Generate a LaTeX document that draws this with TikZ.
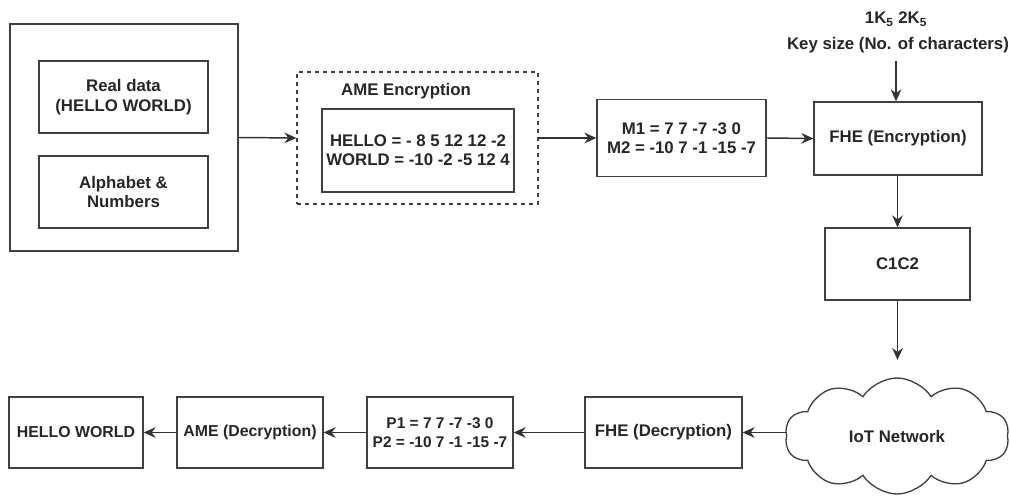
\documentclass[tikz,border=0pt]{standalone}
\usepackage{fontspec}
\setmainfont{Liberation Sans}
\usetikzlibrary{arrows.meta,shapes.symbols}
\begin{document}
\begin{tikzpicture}[x=0.75pt,y=-0.75pt,
  every node/.style={font=\bfseries\fontsize{12.6}{14.5}\selectfont, text=black!85},
  small/.style={font=\bfseries\fontsize{11.9}{14}\selectfont},
  smaller/.style={font=\bfseries\fontsize{11.6}{14}\selectfont},
  box/.style={draw=black!75, line width=1pt, rectangle, inner sep=0pt, align=center},
  arr/.style={draw=black!80, line width=1.1pt, -{Stealth[length=9pt,width=8pt,inset=3pt]}},
  plain/.style={draw=none, align=center}]
\useasboundingbox (0,0) rectangle (1010,496);
% input group
\node[box, minimum width=228*0.75pt, minimum height=227*0.75pt] (outer) at (124,137.5) {};
\node[box, minimum width=169*0.75pt, minimum height=72*0.75pt] (real) at (123.5,97) {Real data\\(HELLO WORLD)};
\node[box, minimum width=169*0.75pt, minimum height=72*0.75pt] (alpha) at (123.5,192) {Alphabet \&\\Numbers};
% AME encryption
\node[box, dashed, minimum width=241*0.75pt, minimum height=132*0.75pt] (ame) at (417.5,138) {};
\node[plain] (ametitle) at (406,91) {AME Encryption};
\node[box, minimum width=192*0.75pt, minimum height=83*0.75pt] (amein) at (418,150.5) {HELLO = - 8 5 12 12 -2\\WORLD = -10 -2 -5 12 4};
% M box
\node[box, minimum width=169*0.75pt, minimum height=77*0.75pt] (m) at (681.5,138) {M1 = 7 7 -7 -3 0\\M2 = -10 7 -1 -15 -7};
% FHE encryption
\node[box, minimum width=168*0.75pt, minimum height=73*0.75pt] (fhe) at (898,138.5) {FHE (Encryption)};
\node[plain] (keys) at (896,19) {1K\textsubscript{5} 2K\textsubscript{5}};
\node[plain] (keysize) at (898,45) {Key size (No. of characters)};
\coordinate (keyend) at (896,61);
% C1C2
\node[box, minimum width=145*0.75pt, minimum height=72*0.75pt] (c) at (897.5,264) {C1C2};
% cloud
\node[cloud, cloud puffs=10, cloud puff arc=115, aspect=2, draw=black!75, line width=1pt,
      minimum width=224*0.75pt, minimum height=116*0.75pt, inner sep=0pt] (iot) at (897,436) {IoT Network};
% bottom row
\node[box, minimum width=157*0.75pt, minimum height=71*0.75pt] (fhed) at (663.5,432.5) {FHE (Decryption)};
\node[box, smaller, minimum width=146*0.75pt, minimum height=71*0.75pt] (p) at (440,432.5) {P1 = 7 7 -7 -3 0\\P2 = -10 7 -1 -15 -7};
\node[box, small, minimum width=146*0.75pt, minimum height=71*0.75pt] (amed) at (250,432.5) {AME (Decryption)};
\node[box, small, minimum width=134*0.75pt, minimum height=71*0.75pt] (hw) at (76,432.5) {HELLO WORLD};
% arrows
\draw[arr] (outer.east) -- (ame.west);
\draw[arr] (ame.east) -- (m.west);
\draw[arr] (m.east) -- (fhe.west);
\draw[arr] (keyend) -- (fhe.north -| keyend);
\draw[arr] (fhe.south -| c.north) -- (c.north);
\coordinate (cend) at (897.5,360);
\draw[arr] (c.south) -- (cend);
\draw[arr] (iot.west |- fhed.east) -- (fhed.east);
\draw[arr] (fhed.west) -- (p.east);
\draw[arr] (p.west) -- (amed.east);
\draw[arr] (amed.west) -- (hw.east);
\end{tikzpicture}
\end{document}
